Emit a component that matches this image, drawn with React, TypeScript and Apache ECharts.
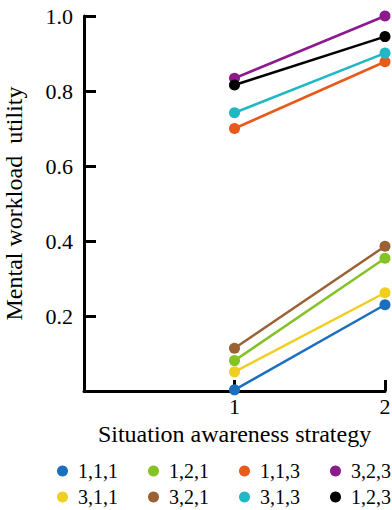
import React, { useEffect, useRef } from "react";
import * as echarts from "echarts";

const strategies = [1, 2];
const seriesNames = ["1,1,1", "1,2,1", "1,1,3", "3,2,3", "3,1,1", "3,2,1", "3,1,3", "1,2,3"];
const seriesColors = ["#1a6fbf", "#85c226", "#e85a1a", "#8c1a8c", "#f0cf22", "#9a6234", "#20b8c4", "#000000"];
const v111 = [0.003, 0.23];
const v121 = [0.081, 0.354];
const v113 = [0.70, 0.878];
const v323 = [0.834, 1.0];
const v311 = [0.051, 0.262];
const v321 = [0.114, 0.386];
const v313 = [0.742, 0.901];
const v123 = [0.816, 0.945];
const seriesValues = [v111, v121, v113, v323, v311, v321, v313, v123];
const legendRow1 = ["1,1,1", "1,2,1", "1,1,3", "3,2,3"];
const legendRow2 = ["3,1,1", "3,2,1", "3,1,3", "1,2,3"];

const FONT = "'Liberation Serif', 'Times New Roman', serif";

export default function App() {
  const ref = useRef<HTMLDivElement>(null);
  useEffect(() => {
    if (!ref.current) return;
    const chart = echarts.init(ref.current, undefined, { renderer: "svg" });
    const legendBase = {
      orient: "horizontal",
      icon: "circle",
      itemWidth: 11,
      itemHeight: 11,
      itemGap: 30,
      left: 57,
      width: 340,
      padding: 0,
      textStyle: { fontFamily: FONT, fontSize: 20, color: "#000", padding: [0, 0, 0, 5] },
      selectedMode: false,
    };
    chart.setOption({
      animation: false,
      backgroundColor: "#fff",
      textStyle: { fontFamily: FONT },
      grid: { left: 84, right: 7, top: 16, bottom: 119, containLabel: false, outerBoundsMode: "none" },
      legend: [
        { ...legendBase, top: 461, data: legendRow1 },
        { ...legendBase, top: 487, data: legendRow2 },
      ],
      xAxis: {
        type: "value",
        min: 0,
        max: 2,
        interval: 1,
        name: "Situation awareness strategy",
        nameLocation: "middle",
        nameGap: 28,
        nameTextStyle: { fontFamily: FONT, fontSize: 24, color: "#000" },
        axisLine: { show: true, lineStyle: { color: "#000", width: 3 } },
        axisTick: { show: true, inside: true, length: 11, lineStyle: { color: "#000", width: 3 } },
        axisLabel: {
          fontFamily: FONT,
          fontSize: 22,
          color: "#000",
          margin: 4,
          hideOverlap: false,
          formatter: (v: number) => (v === 0 ? "" : String(v)),
        },
        splitLine: { show: false },
      },
      yAxis: {
        type: "value",
        min: 0,
        max: 1,
        interval: 0.2,
        name: "Mental workload  utility",
        nameLocation: "middle",
        nameGap: 58,
        nameTextStyle: { fontFamily: FONT, fontSize: 24, color: "#000", whiteSpace: "pre" },
        axisLine: { show: true, lineStyle: { color: "#000", width: 3 } },
        axisTick: { show: true, inside: true, length: 12, lineStyle: { color: "#000", width: 3 } },
        axisLabel: {
          fontFamily: FONT,
          fontSize: 22,
          color: "#000",
          margin: 11,
          formatter: (v: number) => (v === 0 ? "" : v.toFixed(1)),
        },
        splitLine: { show: false },
      },
      series: seriesNames.map((name, i) => ({
        name,
        type: "line",
        data: strategies.map((s, j) => [s, seriesValues[i][j]]),
        symbol: "circle",
        symbolSize: 11,
        color: seriesColors[i],
        lineStyle: { width: 2.5, color: seriesColors[i] },
        itemStyle: { color: seriesColors[i] },
        clip: false,
        z: 3,
      })),
    });
    return () => chart.dispose();
  }, []);
  return <div ref={ref} style={{ width: 392, height: 510, position: "fixed", left: 0, top: 0 }} />;
}
